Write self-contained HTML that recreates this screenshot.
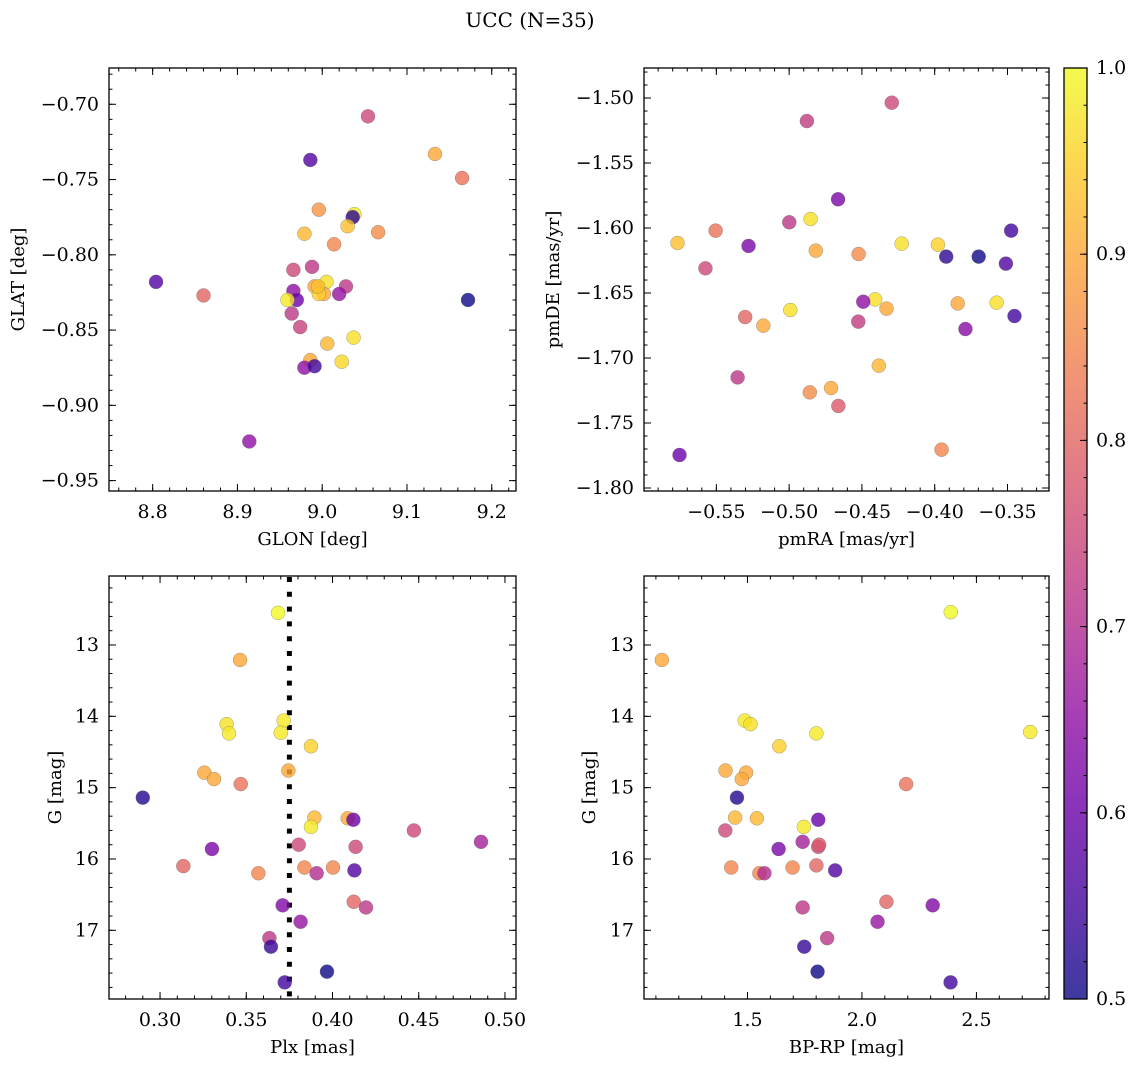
<!DOCTYPE html>
<html><head><meta charset="utf-8">
<style>
html,body{margin:0;padding:0;background:#fff;}
svg text{font-family:"DejaVu Serif","Liberation Serif",serif;fill:#000;}
</style></head>
<body>
<svg id="fig" width="1136" height="1067" viewBox="0 0 1136 1067" xmlns="http://www.w3.org/2000/svg">
<rect x="0" y="0" width="1136" height="1067" fill="#fff"/>
<text x="530" y="27" font-size="20" text-anchor="middle">UCC (N=35)</text>
<defs>
<linearGradient id="cbgrad" x1="0" y1="1" x2="0" y2="0">
<stop offset="0" stop-color="#0d0887"/><stop offset="0.1" stop-color="#41049d"/><stop offset="0.2" stop-color="#6a00a8"/><stop offset="0.3" stop-color="#8f0da4"/><stop offset="0.4" stop-color="#b12a90"/><stop offset="0.5" stop-color="#cc4778"/><stop offset="0.6" stop-color="#e16462"/><stop offset="0.7" stop-color="#f2844b"/><stop offset="0.8" stop-color="#fca636"/><stop offset="0.9" stop-color="#fcce25"/><stop offset="1" stop-color="#f0f921"/>
</linearGradient>
</defs>
<g id="layer"></g>
</svg>
<script>
// ---- data: top-left (GLON/GLAT)
const tlGlon=[9.054,9.133,9.165,8.986,8.996,9.038,9.036,8.979,9.030,9.066,9.014,8.804,8.860,8.966,8.988,9.005,8.991,9.002,9.028,8.966,9.020,8.996,8.970,8.959,9.172,8.964,8.974,9.037,9.006,8.986,9.023,8.979,8.991,8.914,8.995];
const tlGlat=[-0.708,-0.733,-0.749,-0.737,-0.770,-0.773,-0.775,-0.786,-0.781,-0.785,-0.793,-0.818,-0.827,-0.810,-0.808,-0.818,-0.821,-0.826,-0.821,-0.824,-0.826,-0.826,-0.830,-0.830,-0.830,-0.839,-0.848,-0.855,-0.859,-0.870,-0.871,-0.875,-0.874,-0.924,-0.821];
const tlProb=[0.75,0.9,0.82,0.57,0.87,0.98,0.53,0.92,0.93,0.86,0.85,0.57,0.8,0.75,0.72,0.97,0.9,0.9,0.72,0.65,0.66,0.95,0.6,0.98,0.5,0.72,0.74,0.97,0.92,0.9,0.96,0.65,0.55,0.65,0.93];
// ---- data: top-right (pmRA/pmDE)
const trPmra=[-0.4295,-0.4878,-0.4664,-0.5767,-0.5505,-0.5575,-0.5279,-0.4999,-0.4853,-0.4817,-0.4523,-0.4227,-0.3978,-0.3921,-0.3698,-0.3511,-0.3475,-0.3452,-0.3789,-0.3842,-0.3575,-0.4409,-0.4491,-0.4331,-0.4525,-0.4992,-0.5302,-0.5177,-0.5354,-0.4384,-0.4712,-0.4858,-0.4662,-0.3953,-0.5753];
const trPmde=[-1.5036,-1.5177,-1.5779,-1.6115,-1.602,-1.631,-1.6138,-1.5956,-1.5931,-1.6174,-1.620,-1.612,-1.6128,-1.622,-1.622,-1.6274,-1.602,-1.6677,-1.6777,-1.658,-1.6574,-1.6549,-1.6567,-1.662,-1.672,-1.6631,-1.6685,-1.6751,-1.7149,-1.7059,-1.7231,-1.7264,-1.7369,-1.7705,-1.7746];
const trProb=[0.75,0.73,0.62,0.93,0.82,0.75,0.62,0.72,0.97,0.9,0.86,0.97,0.95,0.53,0.5,0.57,0.55,0.55,0.64,0.9,0.97,0.97,0.65,0.9,0.73,0.97,0.8,0.9,0.72,0.92,0.9,0.86,0.78,0.85,0.6];
// ---- data: bottom-left (Plx/G)
const blPlx=[0.3684,0.3464,0.3386,0.340,0.3717,0.370,0.3875,0.3257,0.3313,0.3744,0.3468,0.2900,0.3895,0.3875,0.4088,0.4121,0.4472,0.4861,0.3804,0.4134,0.3301,0.3135,0.357,0.3837,0.4003,0.3908,0.4127,0.4123,0.4194,0.3711,0.3815,0.3634,0.3643,0.3968,0.3723];
const blG=[12.55,13.21,14.11,14.24,14.06,14.23,14.42,14.79,14.88,14.76,14.95,15.14,15.42,15.55,15.43,15.45,15.60,15.76,15.80,15.83,15.86,16.10,16.20,16.12,16.12,16.20,16.16,16.60,16.68,16.65,16.88,17.11,17.23,17.58,17.73];
const blProb=[1.0,0.9,0.97,0.98,0.98,0.98,0.95,0.9,0.9,0.9,0.82,0.52,0.92,0.98,0.9,0.6,0.75,0.68,0.75,0.75,0.62,0.8,0.85,0.85,0.85,0.7,0.57,0.8,0.72,0.63,0.66,0.72,0.54,0.5,0.55];
const plxMedian=0.375;
// ---- data: bottom-right (BP-RP/G)
const brBprp=[2.388,1.126,1.488,1.513,1.801,1.639,2.735,1.404,1.494,1.475,2.193,1.454,1.446,1.541,1.746,1.809,1.403,1.741,1.809,1.813,1.636,1.429,1.552,1.574,1.697,1.801,1.883,1.741,2.107,2.309,2.068,1.848,1.748,1.806,2.387];
const brG=[12.54,13.21,14.06,14.11,14.24,14.42,14.22,14.76,14.79,14.88,14.95,15.14,15.42,15.43,15.55,15.45,15.60,15.76,15.83,15.80,15.86,16.12,16.20,16.20,16.12,16.09,16.16,16.68,16.60,16.65,16.88,17.11,17.23,17.58,17.73];
const brProb=[1.0,0.9,0.98,0.97,0.98,0.95,0.98,0.9,0.9,0.9,0.82,0.52,0.92,0.92,0.98,0.6,0.75,0.68,0.75,0.78,0.62,0.85,0.85,0.7,0.85,0.8,0.57,0.72,0.8,0.63,0.66,0.72,0.54,0.5,0.55];
// ---- tick labels
const tlXTicks=[8.8,8.9,9.0,9.1,9.2];
const tlYTicks=[-0.70,-0.75,-0.80,-0.85,-0.90,-0.95];
const trXTicks=[-0.55,-0.50,-0.45,-0.40,-0.35];
const trYTicks=[-1.50,-1.55,-1.60,-1.65,-1.70,-1.75,-1.80];
const blXTicks=[0.30,0.35,0.40,0.45,0.50];
const gTicks=[13,14,15,16,17];
const brXTicks=[1.5,2.0,2.5];
const cbTicks=[0.5,0.6,0.7,0.8,0.9,1.0];

const NS='http://www.w3.org/2000/svg';
const layer=document.getElementById('layer');
function mk(tag,attrs,parent){const e=document.createElementNS(NS,tag);for(const k in attrs)e.setAttribute(k,attrs[k]);(parent||layer).appendChild(e);return e;}
const stops=[[13,8,135],[65,4,157],[106,0,168],[143,13,164],[177,42,144],[204,71,120],[225,100,98],[242,132,75],[252,166,54],[252,206,37],[240,249,33]];
function plasma(v){let t=(v-0.5)/0.5;t=Math.max(0,Math.min(1,t))*10;const i=Math.min(9,Math.floor(t));const f=t-i;const a=stops[i],b=stops[i+1];return 'rgb('+a.map((c,k)=>Math.round(c+(b[k]-c)*f)).join(',')+')';}
function fmt(v,d){const s=Math.abs(v).toFixed(d);return (v<0?'\u2212':'')+s;}
const TF=19, LF=18;

function panel(p){
  const g=mk('g',{});
  
  
  const sx=v=>p.l+(v-p.x0)/(p.x1-p.x0)*(p.r-p.l);
  const sy=v=>p.t+(v-p.y0)/(p.y1-p.y0)*(p.b-p.t);
  const tk=mk('g',{stroke:'#000','stroke-width':1},g);
  
  
  const xs=Math.min(p.x0,p.x1),xe=Math.max(p.x0,p.x1);
  for(let k=Math.ceil(xs/p.xMin-1e-6);k*p.xMin<=xe+1e-9;k++){const X=sx(k*p.xMin);
    mk('line',{x1:X,x2:X,y1:p.b,y2:p.b-3.5},tk);mk('line',{x1:X,x2:X,y1:p.t,y2:p.t+3.5},tk);}
  const ys=Math.min(p.y0,p.y1),ye=Math.max(p.y0,p.y1);
  for(let k=Math.ceil(ys/p.yMin-1e-6);k*p.yMin<=ye+1e-9;k++){const Y=sy(k*p.yMin);
    mk('line',{x1:p.l,x2:p.l+3.5,y1:Y,y2:Y},tk);mk('line',{x1:p.r,x2:p.r-3.5,y1:Y,y2:Y},tk);}
  p.xTicks.forEach(v=>{const X=sx(v);
    mk('line',{x1:X,x2:X,y1:p.b,y2:p.b-7},tk);mk('line',{x1:X,x2:X,y1:p.t,y2:p.t+7},tk);
    const t=mk('text',{x:X,y:p.b+27,'font-size':TF,'text-anchor':'middle'},g);t.textContent=fmt(v,p.xd);
    
    });
  p.yTicks.forEach(v=>{const Y=sy(v);
    mk('line',{x1:p.l,x2:p.l+7,y1:Y,y2:Y},tk);mk('line',{x1:p.r,x2:p.r-7,y1:Y,y2:Y},tk);
    const t=mk('text',{x:p.l-10,y:Y+6,'font-size':TF,'text-anchor':'end'},g);t.textContent=fmt(v,p.yd);
    
    });
  if(p.extra)p.extra(g,sx,sy);
  const pts=mk('g',{},g);
  
  
  for(let i=0;i<p.xv.length;i++){
    const c=mk('circle',{cx:sx(p.xv[i]),cy:sy(p.yv[i]),r:7,fill:plasma(p.cv[i]),'fill-opacity':0.8,stroke:'#666','stroke-opacity':0.6,'stroke-width':0.5},pts);
    
    
  }
  const fr=mk('rect',{x:p.l,y:p.t,width:p.r-p.l,height:p.b-p.t,fill:'none',stroke:'#000','stroke-width':1.3},g);
  
  
  const xl=mk('text',{x:(p.l+p.r)/2,y:p.b+54,'font-size':LF,'text-anchor':'middle'},g);xl.textContent=p.xlabel;
  
  
  const yl=mk('text',{x:0,y:0,'font-size':LF,'text-anchor':'middle',transform:'translate('+p.ylx+','+(p.t+p.b)/2+') rotate(-90)'},g);yl.textContent=p.ylabel;
  
  
}

panel({name:'glon-glat-panel',l:109,r:516,t:68,b:491,x0:8.7485,x1:9.2286,y0:-0.6759,y1:-0.9569,xMin:0.02,yMin:0.01,xTicks:tlXTicks,yTicks:tlYTicks,xd:1,yd:2,xv:tlGlon,yv:tlGlat,cv:tlProb,xlabel:'GLON [deg]',ylabel:'GLAT [deg]',ylx:24});
panel({name:'pm-panel',l:644,r:1049,t:68,b:491,x0:-0.5997,x1:-0.3215,y0:-1.4769,y1:-1.8023,xMin:0.01,yMin:0.01,xTicks:trXTicks,yTicks:trYTicks,xd:2,yd:2,xv:trPmra,yv:trPmde,cv:trProb,xlabel:'pmRA [mas/yr]',ylabel:'pmDE [mas/yr]',ylx:559});
panel({name:'plx-g-panel',l:109,r:516,t:576,b:999,x0:0.2704,x1:0.5064,y0:12.033,y1:17.963,xMin:0.01,yMin:0.2,xTicks:blXTicks,yTicks:gTicks,xd:2,yd:0,xv:blPlx,yv:blG,cv:blProb,xlabel:'Plx [mas]',ylabel:'G [mag]',ylx:61,
  extra:(g,sx,sy)=>{const X=sx(plxMedian);const l=mk('line',{x1:X,x2:X,y1:sy(12.033)+1,y2:sy(17.963),stroke:'#000','stroke-width':5,'stroke-dasharray':'5 9.8'},g);
    
    }});
panel({name:'cmd-panel',l:644,r:1049,t:576,b:999,x0:1.048,x1:2.817,y0:12.033,y1:17.963,xMin:0.1,yMin:0.2,xTicks:brXTicks,yTicks:gTicks,xd:1,yd:0,xv:brBprp,yv:brG,cv:brProb,xlabel:'BP-RP [mag]',ylabel:'G [mag]',ylx:595});

// colorbar
(function(){
  const g=mk('g',{});
  
  
  const L=1064,R=1087,T=68,B=999;
  mk('rect',{x:L,y:T,width:R-L,height:B-T,fill:'url(#cbgrad)','fill-opacity':0.8},g);
  const cy=v=>B-(v-0.5)/0.5*(B-T);
  for(let k=25;k<=50;k++){const Y=cy(k*0.02);mk('line',{x1:R,x2:R-3.5,y1:Y,y2:Y,stroke:'#000','stroke-width':1},g);}
  cbTicks.forEach(v=>{const Y=cy(v);mk('line',{x1:R,x2:R-7,y1:Y,y2:Y,stroke:'#000','stroke-width':1},g);
    const t=mk('text',{x:R+9,y:Y+6,'font-size':TF},g);t.textContent=v.toFixed(1);
    
    });
  mk('rect',{x:L,y:T,width:R-L,height:B-T,fill:'none',stroke:'#000','stroke-width':1.3},g);
})();
</script>
</body></html>
